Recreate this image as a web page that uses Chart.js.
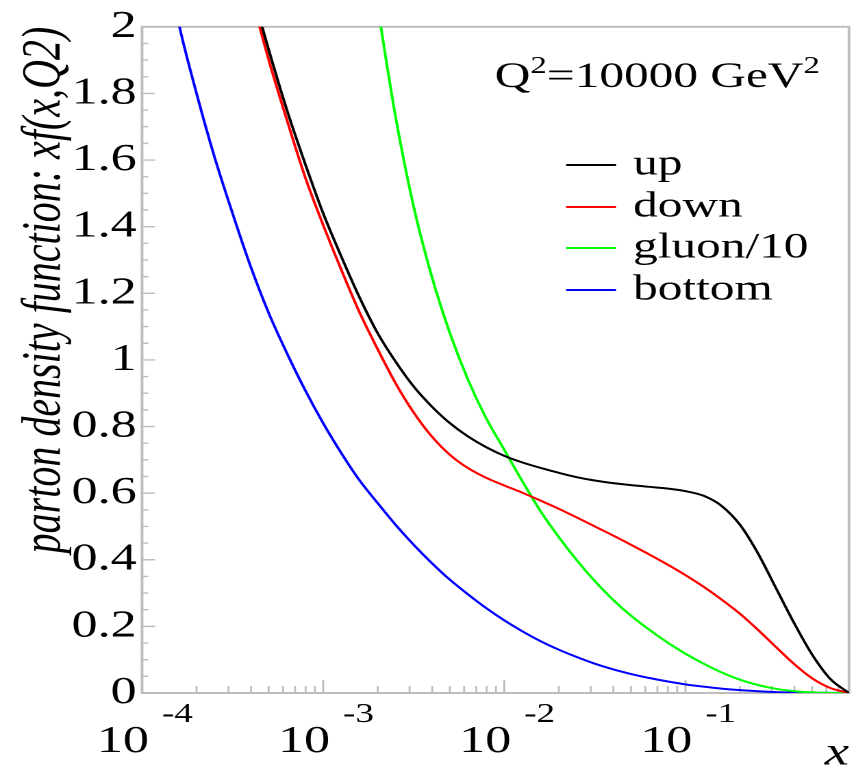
<!DOCTYPE html>
<html><head><meta charset="utf-8">
<script src="https://cdn.jsdelivr.net/npm/chart.js@4/dist/chart.umd.min.js"></script>
<style>
html,body{margin:0;padding:0;background:#fff;overflow:hidden;}
#wrap{position:absolute;left:0;top:0;width:625px;height:772px;transform:scaleX(1.3696);transform-origin:0 0;}
</style></head><body>
<div id="wrap"><canvas id="c"></canvas></div>
<script>
// ---- data (x = momentum fraction, values = x f(x,Q^2)) ----
const xValues = [0.0001,0.000126,0.000158,0.0002,0.000251,0.000316,0.000398,0.000501,0.000631,0.000794,
                 0.001,0.00126,0.00158,0.002,0.00251,0.00316,0.00398,0.00501,0.00631,0.00794,
                 0.01,0.0126,0.0158,0.02,0.0251,0.0316,0.0398,0.0501,0.0631,0.0794,
                 0.1,0.126,0.158,0.2,0.251,0.316,0.398,0.501,0.631,0.8];
const upValues = [null,null,null,null,null,null,2.12,1.93,1.75,1.59,
                  1.44,1.31,1.19,1.08,0.995,0.92,0.86,0.81,0.77,0.738,
                  0.712,0.692,0.676,0.661,0.648,0.638,0.63,0.624,0.619,0.614,
                  0.606,0.592,0.562,0.505,0.42,0.315,0.21,0.115,0.042,0.0];
const downValues = [null,null,null,null,null,null,2.10,1.90,1.72,1.55,
                    1.405,1.27,1.145,1.032,0.93,0.842,0.77,0.715,0.675,0.646,
                    0.623,0.601,0.578,0.553,0.527,0.50,0.473,0.445,0.416,0.386,
                    0.354,0.319,0.281,0.238,0.19,0.138,0.087,0.044,0.015,0.0];
const gluonValues = [null,null,null,null,null,null,null,null,null,null,
                     null,null,null,2.06,1.73,1.46,1.25,1.08,0.94,0.825,
                     0.73,0.635,0.547,0.468,0.399,0.336,0.28,0.232,0.19,0.152,
                     0.118,0.088,0.062,0.04,0.024,0.0125,0.0055,0.0017,0.0003,0.0];
const bottomValues = [2.6,2.3,2.02,1.80,1.61,1.44,1.28,1.14,1.02,0.91,
                      0.81,0.72,0.64,0.57,0.505,0.445,0.39,0.34,0.296,0.255,
                      0.218,0.185,0.156,0.13,0.108,0.088,0.071,0.057,0.045,0.035,
                      0.026,0.019,0.013,0.0085,0.0053,0.0028,0.0014,0.0006,0.0002,0.0];
const seriesLabels = ['up','down','gluon/10','bottom'];
const seriesColors = ['#000000','#ff0000','#00ff00','#0000ff'];
const xTickExponents = [-4,-3,-2,-1];
const yTickLabels = ['0','0.2','0.4','0.6','0.8','1','1.2','1.4','1.6','1.8','2'];
const yAxisTitle = 'parton density function: xf(x,Q2)';
const xAxisTitle = 'x';

const SERIF = "'Liberation Serif','Times New Roman',serif";
const AXIS = '#bdbdbd';

function pts(vals){ return xValues.map((x,i)=>({x:x,y:vals[i]})); }
const allValues = [upValues,downValues,gluonValues,bottomValues];

const decor = {
  id:'decor',
  beforeDatasetsDraw(chart){
    const {ctx, chartArea:a, scales:{x,y}} = chart;
    ctx.save();
    ctx.strokeStyle = AXIS;
    ctx.lineWidth = 2;
    ctx.strokeRect(a.left, a.top, a.right-a.left, a.bottom-a.top);
    ctx.lineWidth = 1.4;
    ctx.beginPath();
    for (let i=0;i<=40;i++){
      const py = y.getPixelForValue(i*0.05);
      const len = (i%4===0) ? 9.5 : 4.6;
      ctx.moveTo(a.left, py); ctx.lineTo(a.left+len, py);
    }
    for (const e of xTickExponents){
      for (let m=1;m<=9;m++){
        const v = m*Math.pow(10,e);
        if (v > x.max) break;
        const px = x.getPixelForValue(v);
        const len = (m===1) ? 13 : 7;
        ctx.moveTo(px, a.bottom); ctx.lineTo(px, a.bottom-len);
      }
    }
    ctx.stroke();
    ctx.restore();
  },
  afterDraw(chart){
    const {ctx, chartArea:a, scales:{x}} = chart;
    ctx.save();
    ctx.fillStyle = '#000';
    for (const e of xTickExponents){
      const px = x.getPixelForValue(Math.pow(10,e));
      ctx.font = '38px '+SERIF;
      ctx.textAlign = 'right'; ctx.textBaseline = 'alphabetic';
      ctx.fillText('10', px+5, 752);
      ctx.font = '27px '+SERIF;
      ctx.textAlign = 'left';
      ctx.fillText(String(e), px+14.5, 722);
    }
    let tx = 361.3;
    const by = 87;
    const big = '36px '+SERIF, small = '24px '+SERIF;
    const parts = [['Q',big,0],['2',small,-14],['=10000 GeV',big,0],['2',small,-14]];
    ctx.textAlign = 'left';
    for (const [t,f,dy] of parts){
      ctx.font = f; ctx.fillText(t, tx, by+dy); tx += ctx.measureText(t).width;
    }
    const ly = [165,207,248,290];
    chart.data.datasets.forEach((ds,i)=>{
      ctx.strokeStyle = ds.borderColor; ctx.lineWidth = 2;
      ctx.beginPath(); ctx.moveTo(413.3, ly[i]); ctx.lineTo(449.8, ly[i]); ctx.stroke();
      ctx.font = '36px '+SERIF; ctx.textBaseline = 'middle';
      ctx.fillText(ds.label, 462.2, ly[i]);
    });
    ctx.restore();
  }
};

new Chart(document.getElementById('c'), {
  type:'line',
  data:{ datasets: seriesLabels.map((l,i)=>({
    label:l, data:pts(allValues[i]), borderColor:seriesColors[i], backgroundColor:seriesColors[i],
    borderWidth:2, pointRadius:0, cubicInterpolationMode:'monotone', fill:false, spanGaps:false
  }))},
  options:{
    responsive:true, maintainAspectRatio:false, animation:false, devicePixelRatio:2,
    layout:{padding:{left:0,right:5.1,top:21,bottom:0}},
    plugins:{legend:{display:false}, tooltip:{enabled:false}},
    scales:{
      x:{type:'logarithmic', min:0.0001, max:0.8,
         grid:{display:false}, border:{display:false},
         ticks:{display:false},
         title:{display:true, text:xAxisTitle, align:'end', color:'#000',
                font:{family:SERIF, size:40, style:'italic', lineHeight:0.9}, padding:0},
         afterFit(s){ s.height = 79; }},
      y:{type:'linear', min:0, max:2,
         grid:{display:false, drawTicks:false}, border:{display:false},
         ticks:{stepSize:0.2, color:'#000', padding:4, font:{family:SERIF, size:38},
                callback:(v)=>yTickLabels[Math.round(v/0.2)]},
         title:{display:true, text:yAxisTitle, align:'end', color:'#000',
                font:{family:SERIF, size:40, style:'italic', lineHeight:1.2}, padding:{top:9,bottom:0}},
         afterFit(s){ s.width = 103.7; }}
    }
  },
  plugins:[decor]
});
</script>
</body></html>
